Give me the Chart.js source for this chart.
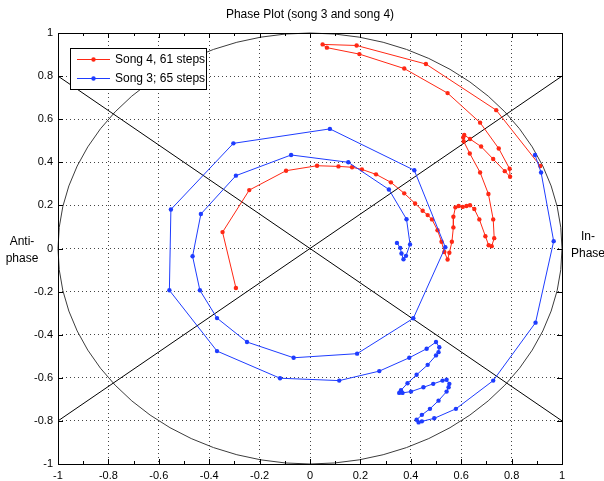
<!DOCTYPE html>
<html>
<head>
<meta charset="utf-8">
<script src="https://cdn.jsdelivr.net/npm/chart.js@4/dist/chart.umd.min.js"></script>
<style>
html, body { margin: 0; padding: 0; background: #fff; }
#wrap { position: relative; width: 604px; height: 481px; }
</style>
</head>
<body>
<div id="wrap"><canvas id="phase" width="604" height="481"></canvas></div>
<script>
// song 4 (red), 61 steps
const song4X = [0.914, 0.739, 0.460, 0.185, 0.050, 0.067, 0.196, 0.374, 0.546, 0.675, 0.749, 0.792, 0.794, 0.773, 0.727, 0.679, 0.635, 0.612, 0.608, 0.610, 0.634, 0.675, 0.708, 0.727, 0.731, 0.721, 0.709, 0.696, 0.672, 0.652, 0.635, 0.621, 0.606, 0.590, 0.577, 0.569, 0.569, 0.563, 0.553, 0.546, 0.533, 0.522, 0.506, 0.484, 0.467, 0.447, 0.417, 0.374, 0.321, 0.262, 0.206, 0.167, 0.113, 0.028, -0.095, -0.241, -0.347, -0.294];
const song4Y = [0.383, 0.642, 0.856, 0.942, 0.947, 0.932, 0.902, 0.835, 0.721, 0.584, 0.464, 0.370, 0.333, 0.359, 0.415, 0.473, 0.508, 0.527, 0.515, 0.497, 0.441, 0.353, 0.253, 0.135, 0.048, 0.011, 0.015, 0.057, 0.135, 0.183, 0.201, 0.197, 0.193, 0.197, 0.191, 0.147, 0.098, 0.031, -0.020, -0.051, -0.016, 0.031, 0.085, 0.135, 0.155, 0.175, 0.209, 0.256, 0.307, 0.344, 0.367, 0.377, 0.381, 0.384, 0.361, 0.271, 0.076, -0.183];

// song 3 (blue), 65 steps
const song3X = [0.345, 0.358, 0.363, 0.371, 0.381, 0.397, 0.383, 0.313, 0.152, -0.075, -0.294, -0.433, -0.466, -0.437, -0.369, -0.250, -0.065, 0.187, 0.410, 0.537, 0.414, 0.079, -0.304, -0.552, -0.558, -0.369, -0.119, 0.116, 0.275, 0.394, 0.463, 0.500, 0.513, 0.510, 0.500, 0.467, 0.423, 0.387, 0.361, 0.354, 0.367, 0.401, 0.450, 0.489, 0.526, 0.542, 0.553, 0.550, 0.542, 0.510, 0.476, 0.444, 0.423, 0.431, 0.444, 0.493, 0.579, 0.727, 0.895, 0.967, 0.917, 0.893];
const song3Y = [0.026, 0.003, -0.023, -0.050, -0.034, 0.019, 0.136, 0.274, 0.400, 0.434, 0.338, 0.160, -0.036, -0.194, -0.323, -0.434, -0.507, -0.488, -0.324, 0.006, 0.363, 0.555, 0.488, 0.181, -0.194, -0.476, -0.602, -0.613, -0.569, -0.507, -0.465, -0.434, -0.458, -0.481, -0.496, -0.540, -0.586, -0.625, -0.658, -0.670, -0.670, -0.664, -0.644, -0.628, -0.613, -0.609, -0.628, -0.644, -0.664, -0.706, -0.744, -0.772, -0.795, -0.807, -0.802, -0.788, -0.744, -0.613, -0.344, 0.034, 0.353, 0.434];

// reference diagonals
const diagUpX = [-1, 1], diagUpY = [-0.8, 0.8];
const diagDownX = [-1, 1], diagDownY = [0.8, -0.8];

const axisTicks = [-1, -0.8, -0.6, -0.4, -0.2, 0, 0.2, 0.4, 0.6, 0.8, 1];
const legendLabels = ['Song 4, 61 steps', 'Song 3; 65 steps'];

const RED = 'rgb(255,40,20)';
const BLUE = 'rgb(30,60,255)';
const FONT = "'Liberation Sans Narrow', 'Liberation Sans', Arial, sans-serif";

function pts(xs, ys) { return xs.map((v, i) => ({ x: v, y: ys[i] })); }

const framePlugin = {
    id: 'frame',
    beforeDatasetsDraw(chart) {
        const { ctx, scales: { x, y } } = chart;
        const cx = x.getPixelForValue(0), cy = y.getPixelForValue(0);
        const rx = x.getPixelForValue(1) - cx, ry = cy - y.getPixelForValue(1);
        ctx.save();
        ctx.strokeStyle = '#3c3c3c'; ctx.lineWidth = 1;
        ctx.beginPath(); ctx.ellipse(cx, cy, rx, ry, 0, 0, Math.PI * 2); ctx.stroke();
        ctx.restore();
    },
    afterDatasetsDraw(chart) {
        const { ctx, chartArea: a, scales: { x, y } } = chart;
        ctx.save();
        ctx.strokeStyle = '#000'; ctx.lineWidth = 1;
        ctx.strokeRect(Math.round(a.left) + 0.5, Math.round(a.top) + 0.5, Math.round(a.width), Math.round(a.height));
        // inward ticks
        ctx.beginPath();
        axisTicks.forEach(v => {
            const px = Math.round(x.getPixelForValue(v)) + 0.5;
            const py = Math.round(y.getPixelForValue(v)) + 0.5;
            ctx.moveTo(px, a.bottom); ctx.lineTo(px, a.bottom - 5);
            ctx.moveTo(px, a.top); ctx.lineTo(px, a.top + 5);
            ctx.moveTo(a.left, py); ctx.lineTo(a.left + 5, py);
            ctx.moveTo(a.right, py); ctx.lineTo(a.right - 5, py);
        });
        for (let i = 0; i < 10; i++) {
            const px = Math.round(x.getPixelForValue(-0.9 + i * 0.2)) + 0.5;
            ctx.moveTo(px, a.bottom); ctx.lineTo(px, a.bottom - 3);
            ctx.moveTo(px, a.top); ctx.lineTo(px, a.top + 3);
        }
        ctx.stroke();

        // legend box
        const lx = 70, ly = 48, lw = 136, lh = 41;
        ctx.fillStyle = '#fff';
        ctx.fillRect(lx, ly, lw, lh);
        ctx.strokeRect(lx + 0.5, ly + 0.5, lw, lh);
        const cols = [RED, BLUE];
        ctx.font = '12px ' + FONT;
        ctx.textBaseline = 'middle';
        legendLabels.forEach((t, i) => {
            const yy = ly + 11 + i * 19;
            ctx.strokeStyle = cols[i]; ctx.fillStyle = cols[i];
            ctx.beginPath(); ctx.moveTo(77, yy + 0.5); ctx.lineTo(110, yy + 0.5); ctx.stroke();
            ctx.beginPath(); ctx.arc(93.5, yy + 0.5, 2.2, 0, Math.PI * 2); ctx.fill();
            ctx.fillStyle = '#000';
            ctx.fillText(t, 115, yy + 1);
        });
        ctx.restore();
    },
    afterDraw(chart) {
        const { ctx } = chart;
        ctx.save();
        ctx.fillStyle = '#000';
        ctx.textAlign = 'center'; ctx.textBaseline = 'middle';
        ctx.font = '12px ' + FONT;
        ctx.fillText('Phase Plot (song 3 and song 4)', 310, 15);
        ctx.fillText('Anti-', 22, 242);
        ctx.fillText('phase', 22, 259);
        ctx.fillText('In-', 588, 237);
        ctx.fillText('Phase', 588, 254);
        ctx.restore();
    }
};

const lineStyle = (color) => ({
    borderColor: color, backgroundColor: color, borderWidth: 1,
    pointRadius: 2.2, pointBorderWidth: 0, pointBackgroundColor: color,
    tension: 0, showLine: true, fill: false
});
const refStyle = { borderColor: '#000', borderWidth: 1, pointRadius: 0, showLine: true, fill: false, order: 2 };

new Chart(document.getElementById('phase'), {
    type: 'scatter',
    data: {
        datasets: [
            { label: legendLabels[1], data: pts(song3X, song3Y), order: 0, ...lineStyle(BLUE) },
            { label: legendLabels[0], data: pts(song4X, song4Y), order: 1, ...lineStyle(RED) },
            { label: 'diag1', data: pts(diagUpX, diagUpY), ...refStyle },
            { label: 'diag2', data: pts(diagDownX, diagDownY), ...refStyle }
        ]
    },
    options: {
        responsive: false,
        animation: false,
        layout: { padding: { left: 0, right: 42, top: 33, bottom: 0 } },
        plugins: { legend: { display: false }, tooltip: { enabled: false }, title: { display: false } },
        scales: {
            x: {
                type: 'linear', min: -1, max: 1,
                afterBuildTicks: s => { s.ticks = axisTicks.map(v => ({ value: v })); },
                afterFit: s => { s.height = 17; },
                grid: { color: '#444', drawTicks: false, lineWidth: 1 },
                border: { display: false, dash: [1, 3] },
                ticks: { padding: 5, color: '#000', font: { family: FONT, size: 11 }, maxRotation: 0,
                         callback: v => String(Math.round(v * 10) / 10) }
            },
            y: {
                type: 'linear', min: -1, max: 1,
                afterBuildTicks: s => { s.ticks = axisTicks.map(v => ({ value: v })); },
                afterFit: s => { s.width = 58; },
                grid: { color: '#444', drawTicks: false, lineWidth: 1 },
                border: { display: false, dash: [1, 3] },
                ticks: { padding: 5, color: '#000', font: { family: FONT, size: 11 },
                         callback: v => String(Math.round(v * 10) / 10) }
            }
        }
    },
    plugins: [framePlugin]
});
</script>
</body>
</html>
